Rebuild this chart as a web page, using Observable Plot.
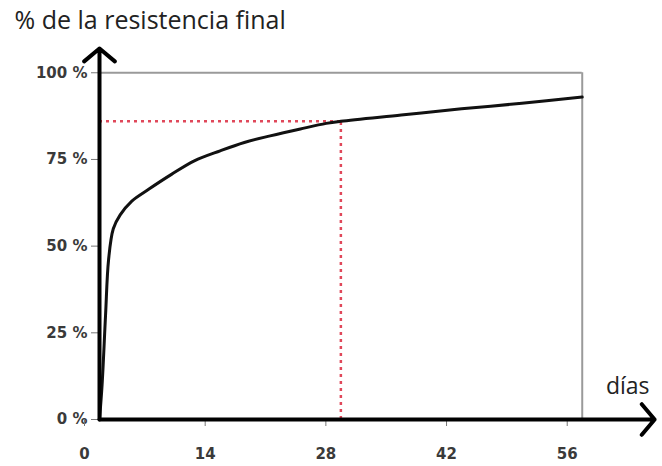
<!DOCTYPE html>
<html>
<head>
<meta charset="utf-8">
<script src="https://cdn.jsdelivr.net/npm/d3@7"></script>
<script src="https://cdn.jsdelivr.net/npm/@observablehq/plot@0.6"></script>
<style>
  html, body { margin: 0; padding: 0; background: #fff; }
</style>
</head>
<body>
<div id="chart"></div>
<script>
const days = [0, 0.3, 0.7, 1.05, 1.6, 2.4, 3.75, 5.7, 8.35, 11, 14, 16.8, 19.8, 23.3, 26.3, 28, 35, 42, 49, 56];
const pct  = [0, 10, 30, 46, 55, 59, 63, 66.4, 70.7, 74.6, 77.5, 79.9, 81.8, 83.8, 85.4, 86, 87.8, 89.6, 91.2, 93];
const xTicks = [0, 14, 28, 42, 56];
const yTicks = [0, 25, 50, 75, 100];
const refDay = 28;
const refPct = 86;
const title = "% de la resistencia final";
const xLabel = "días";

const curve = days.map((d, i) => ({day: d, pct: pct[i]}));

const chart = Plot.plot({
  width: 662,
  height: 466,
  marginLeft: 99,
  marginRight: 7,
  marginTop: 48,
  marginBottom: 47,
  x: {domain: [0, 64.5]},
  y: {domain: [0, 107]},
  style: {fontFamily: "DejaVu Sans", fontSize: "15px", fontWeight: "bold", color: "#444", background: "#fff"},
  marks: [
    // gray frame (top & right)
    Plot.ruleY([100], {x1: 0, x2: 56, stroke: "#9a9a9a", strokeWidth: 2}),
    Plot.ruleX([56], {y1: 0, y2: 100, stroke: "#9a9a9a", strokeWidth: 2}),
    // red dotted reference lines
    Plot.ruleY([refPct], {x1: 0, x2: refDay, stroke: "#e0485a", strokeWidth: 2.5, strokeDasharray: "3,4"}),
    Plot.ruleX([refDay], {y1: 0, y2: refPct, stroke: "#e0485a", strokeWidth: 2.5, strokeDasharray: "3,4"}),
    // curve
    Plot.line(curve, {x: "day", y: "pct", curve: "catmull-rom", stroke: "#111", strokeWidth: 3}),
    // axes ticks and labels
    Plot.axisY({ticks: yTicks, tickFormat: d => d + " %", tickSize: 8, tickPadding: 4, stroke: "#777", fill: "#3a3a3a"}),
    Plot.axisX({ticks: xTicks, tickFormat: d => String(d), tickSize: 7, tickPadding: 22, dx: -15, stroke: "#777", fill: "#3a3a3a"}),
    // black axes with arrows
    Plot.arrow([{x1: 0, y1: 0, x2: 0, y2: 107}], {x1: "x1", y1: "y1", x2: "x2", y2: "y2", stroke: "#000", strokeWidth: 4, headLength: 7.5, headAngle: 100}),
    Plot.arrow([{x1: 0, y1: 0, x2: 64.4, y2: 0}], {x1: "x1", y1: "y1", x2: "x2", y2: "y2", stroke: "#000", strokeWidth: 4, headLength: 7.5, headAngle: 100}),
    // titles
    Plot.text([title], {frameAnchor: "top-left", dx: -85, dy: -37, textAnchor: "start", fontSize: 25, fontWeight: "normal", fontFamily: "Open Sans", fill: "#222"}),
    Plot.text([xLabel], {frameAnchor: "bottom-right", dx: -6, dy: -26, textAnchor: "end", fontSize: 23, fontWeight: "normal", fontFamily: "Open Sans", fill: "#222"})
  ]
});
document.getElementById("chart").appendChild(chart);
</script>
</body>
</html>
